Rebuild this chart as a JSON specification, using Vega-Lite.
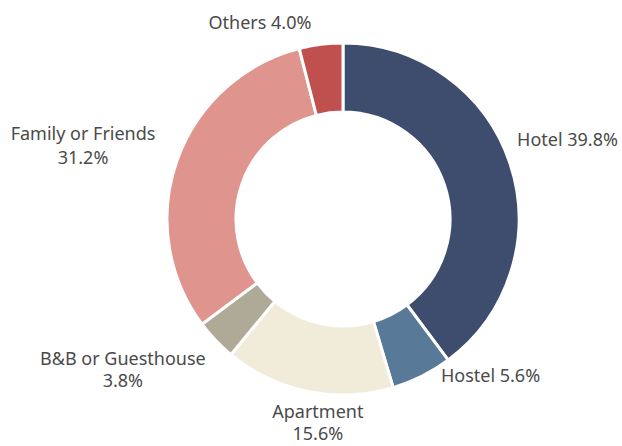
{
  "$schema": "https://vega.github.io/schema/vega-lite/v6.json",
  "width": 558,
  "height": 438,
  "autosize": {"type": "none"},
  "padding": {"left": 64, "top": 0, "right": 0, "bottom": 8},
  "background": "white",
  "config": {"view": {"stroke": null}, "text": {"font": "Noto Sans", "fontSize": 18, "color": "#4a4a4a", "lineHeight": 23}},
  "data": {"values": [
    {"i": 1, "cat": "Hotel", "pct": 39.8, "label": "Hotel 39.8%"},
    {"i": 2, "cat": "Hostel", "pct": 5.6, "label": "Hostel 5.6%"},
    {"i": 3, "cat": "Apartment", "pct": 15.6, "label": ["Apartment", "15.6%"]},
    {"i": 4, "cat": "B&B or Guesthouse", "pct": 3.8, "label": ["B&B or Guesthouse", "3.8%"]},
    {"i": 5, "cat": "Family or Friends", "pct": 31.2, "label": ["Family or Friends", "31.2%"]},
    {"i": 6, "cat": "Others", "pct": 4.0, "label": "Others 4.0%"}
  ]},
  "encoding": {
    "theta": {"field": "pct", "type": "quantitative", "stack": true},
    "order": {"field": "i", "type": "quantitative"}
  },
  "layer": [
    {
      "mark": {"type": "arc", "outerRadius": 176, "innerRadius": 107, "stroke": "white", "strokeWidth": 3},
      "encoding": {
        "color": {"field": "cat", "type": "nominal", "legend": null,
          "scale": {"domain": ["Hotel", "Hostel", "Apartment", "B&B or Guesthouse", "Family or Friends", "Others"],
                    "range": ["#3E4D6E", "#587A98", "#F1ECDA", "#AFAA97", "#DF958D", "#C0504D"]}}
      }
    },
    {
      "mark": {"type": "text", "radius": 176, "align": "left", "baseline": "middle", "dx": 7, "dy": -23},
      "encoding": {"text": {"condition": {"test": "datum.cat === 'Hotel'", "field": "label"}, "value": ""}}
    },
    {
      "mark": {"type": "text", "radius": 176, "align": "left", "baseline": "middle", "dx": 19, "dy": 1},
      "encoding": {"text": {"condition": {"test": "datum.cat === 'Hostel'", "field": "label"}, "value": ""}}
    },
    {
      "mark": {"type": "text", "radius": 176, "align": "center", "baseline": "middle", "dx": 10, "dy": 22, "lineHeight": 22},
      "encoding": {"text": {"condition": {"test": "datum.cat === 'Apartment'", "field": "label"}, "value": ""}}
    },
    {
      "mark": {"type": "text", "radius": 176, "align": "center", "baseline": "middle", "dx": -92.6, "dy": 20, "lineHeight": 22},
      "encoding": {"text": {"condition": {"test": "datum.cat === 'B&B or Guesthouse'", "field": "label"}, "value": ""}}
    },
    {
      "mark": {"type": "text", "radius": 176, "align": "center", "baseline": "middle", "dx": -94, "dy": -25, "lineHeight": 24},
      "encoding": {"text": {"condition": {"test": "datum.cat === 'Family or Friends'", "field": "label"}, "value": ""}}
    },
    {
      "mark": {"type": "text", "radius": 176, "align": "center", "baseline": "middle", "dx": -61, "dy": -20},
      "encoding": {"text": {"condition": {"test": "datum.cat === 'Others'", "field": "label"}, "value": ""}}
    }
  ]
}
